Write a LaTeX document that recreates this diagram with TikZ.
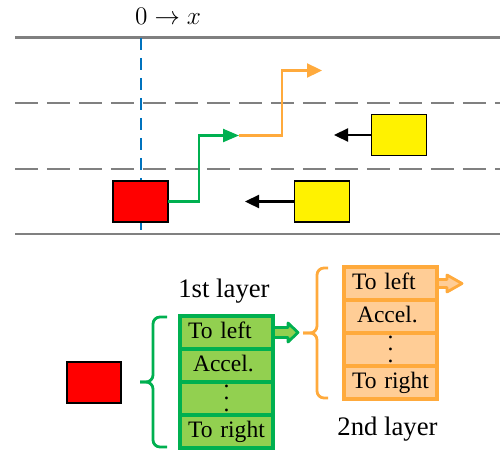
\documentclass[tikz,border=0pt]{standalone}
\usepackage[no-math]{fontspec}
\setmainfont{Liberation Serif}
\usetikzlibrary{arrows.meta,positioning}
\definecolor{roadgray}{RGB}{128,128,128}
\definecolor{originblue}{RGB}{0,114,189}
\definecolor{laneg}{RGB}{0,176,80}
\definecolor{lanegl}{RGB}{146,208,80}
\definecolor{laneo}{RGB}{255,170,60}
\definecolor{laneol}{RGB}{255,205,150}
\newcommand{\rowdots}{\vbox{\baselineskip=6.8pt\lineskiplimit=0pt\hbox{.}\hbox{.}\hbox{.}}}

\begin{document}
\begin{tikzpicture}[
        x=0.02cm, y=-0.02cm,
        thick,
        font=\fontsize{13.4}{16}\selectfont
    ]
    \tikzset{
        road/.style = {line width=1.4pt, roadgray},
        roaddash/.style = {road, dash pattern=on 0.46cm off 0.18cm},
        originline/.style = {line width=1.7pt, originblue, dash pattern=on 0.24cm off 0.16cm},
        carr/.style = {rectangle, draw=black, line width=0.6pt, fill=red, minimum width=1.1cm, minimum height=0.82cm, outer sep=0pt},
        cary/.style = {carr, fill=yellow},
        pathg/.style = {laneg, line width=1.3pt, -{Triangle[length=0.32cm,width=0.26cm]}},
        patho/.style = {laneo, line width=1.3pt, -{Triangle[length=0.30cm,width=0.28cm]}},
        movearrow/.style = {black, line width=1.3pt, -{Triangle[length=0.28cm,width=0.26cm]}},
        rowg/.style = {rectangle, draw=laneg, fill=lanegl, line width=2pt, minimum width=1.86cm, minimum height=0.66cm,
                       text width=1.54cm, inner xsep=0.16cm, inner ysep=0pt, align=left, outer sep=0pt,
                       text height=9.5pt, text depth=3pt},
        rowo/.style = {rowg, draw=laneo, fill=laneol},
        rowdotsg/.style = {rowg, align=center, text height=15pt, text depth=0pt},
        rowdotso/.style = {rowdotsg, draw=laneo, fill=laneol},
        blockg/.style = {draw=laneg, fill=lanegl, line width=1.6pt, line join=round},
        blocko/.style = {draw=laneo, fill=laneol, line width=1.6pt, line join=round},
        braceg/.style = {laneg, line width=1.6pt, rounded corners=0.14cm},
        braceo/.style = {laneo, line width=1.6pt, rounded corners=0.14cm},
        layer/.style = {font=\fontsize{15.2}{18}\selectfont},
    }
    \useasboundingbox (0,0) rectangle (500,450);
    %
    \node[font=\fontsize{15.5}{18}\selectfont] (axis) at (168,16) {$0\rightarrow x$};
    \draw[road] (15,37.5) -- (500,37.5);
    \draw[roaddash] (15,103) -- (500,103);
    \draw[roaddash] (15,169) -- (500,169);
    \draw[road] (15,234) -- (500,234);
    \draw[originline] (141,38) -- (141,234);
    %
    \node[carr] (ego) at (140.5,201.5) {};
    \node[cary] (cara) at (399,135) {};
    \node[cary] (carb) at (322,201.5) {};
    \coordinate (mid) at (239,135.5);
    \coordinate (goal) at (322,70.5);
    \coordinate (caraend) at (334,135);
    \coordinate (carbend) at (245,201.5);
    %
    \draw[pathg] (ego.east) -- ++(31,0) |- (mid);
    \draw[patho] (mid) -- ++(43,0) |- (goal);
    \draw[movearrow] (cara.west) -- (caraend);
    \draw[movearrow] (carb.west) -- (carbend);
    %
    \node[carr, minimum width=1.08cm] (egob) at (94,382.5) {};
    \draw[braceg] (167,317) -- (153,317) -- (153,382) -- (140,382);
    \draw[braceg] (167,447) -- (153,447) -- (153,382) -- (140,382);
    \draw[blockg] (273,332.5) ++(0,-5) -- ++(15,0) -- ++(0,-4.5) -- ++(10,9.5) -- ++(-10,9.5) -- ++(0,-4.5) -- ++(-15,0) -- cycle;
    \node[rowg] (g1) at (226.5,332.5) {To left};
    \node[rowg, below=0pt of g1] (g2) {\hspace{0.1cm}Accel.};
    \node[rowdotsg, below=0pt of g2] (g3) {\rowdots};
    \node[rowg, below=0pt of g3] (g4) {To right};
    \node[layer] (lay1) at (224,291) {1st layer};
    %
    \draw[braceo] (328,268) -- (317,268) -- (317,333) -- (303,333);
    \draw[braceo] (328,398) -- (317,398) -- (317,333) -- (303,333);
    \draw[blocko] (437,283.5) ++(0,-4) -- ++(10,0) -- ++(0,-4.5) -- ++(15,8.5) -- ++(-15,8.5) -- ++(0,-4.5) -- ++(-10,0) -- cycle;
    \node[rowo] (o1) at (390.5,283.5) {To left};
    \node[rowo, below=0pt of o1] (o2) {\hspace{0.1cm}Accel.};
    \node[rowdotso, below=0pt of o2] (o3) {\rowdots};
    \node[rowo, below=0pt of o3] (o4) {To right};
    \node[layer] (lay2) at (387.5,429) {2nd layer};
\end{tikzpicture}
\end{document}
